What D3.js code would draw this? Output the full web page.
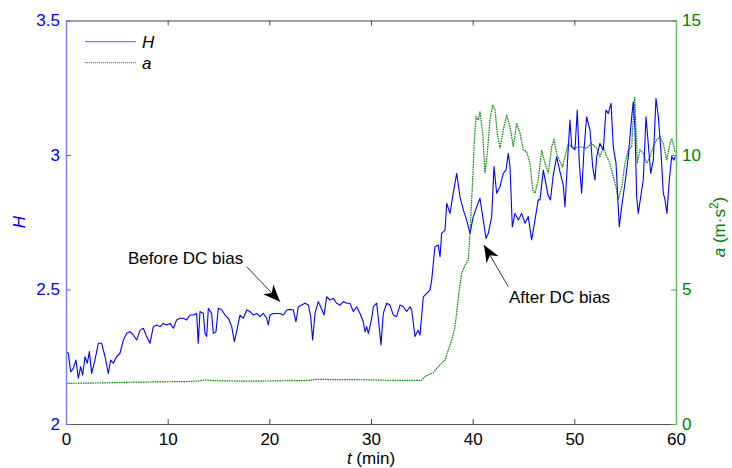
<!DOCTYPE html>
<html>
<head>
<meta charset="utf-8">
<script src="https://cdn.jsdelivr.net/npm/d3@7/dist/d3.min.js"></script>
<style>
html,body{margin:0;padding:0;background:#fff;}
svg{display:block;font-family:"Liberation Sans",Arial,sans-serif;}
</style>
</head>
<body>
<svg id="chart" width="732" height="468"></svg>
<script>
// ---- data ----
const tH = [0,0.23,0.46,0.72,0.98,1.21,1.44,1.64,1.87,2.10,2.30,2.52,2.85,3.18,3.51,3.84,4.16,4.39,4.65,4.98,5.31,5.64,5.97,6.29,6.62,6.95,7.28,7.61,7.93,8.26,8.59,8.92,9.25,9.57,9.90,10.23,10.56,10.88,11.21,11.54,11.87,12.20,12.52,12.85,13.01,13.18,13.51,13.67,13.84,14.00,14.33,14.49,14.75,14.98,15.31,15.64,15.97,16.30,16.56,16.85,17.11,17.44,17.77,18.10,18.43,18.76,19.08,19.41,19.74,19.90,20.07,20.39,20.72,21.05,21.38,21.71,22.03,22.36,22.62,22.85,23.18,23.51,23.84,24.07,24.26,24.49,24.82,25.05,25.38,25.64,25.97,26.29,26.62,26.95,27.28,27.61,27.93,28.26,28.59,28.92,29.24,29.41,29.57,29.74,30.07,30.23,30.56,30.82,30.98,31.21,31.54,31.87,32.19,32.52,32.85,33.18,33.51,33.84,34.00,34.33,34.62,34.82,34.98,35.14,35.48,35.80,35.97,36.29,36.62,36.79,36.95,37.28,37.45,37.77,38.09,38.43,38.75,39.08,39.41,39.74,40.06,40.40,40.72,41.04,41.31,41.54,41.87,42.10,42.36,42.69,43.01,43.28,43.50,43.67,43.90,44.16,44.49,44.82,45.15,45.47,45.80,46.13,46.45,46.62,46.95,47.41,47.65,47.93,48.26,48.59,48.91,49.08,49.41,49.57,49.74,50.06,50.29,50.49,50.72,50.95,51.21,51.54,51.80,52.03,52.20,52.52,52.85,53.11,53.34,53.61,53.83,54.10,54.32,54.42,54.66,54.98,55.31,55.64,55.80,55.97,56.13,56.29,56.53,56.78,57.05,57.27,57.51,57.77,58.03,58.26,58.49,58.75,58.92,59.11,59.34,59.58,59.80,59.93];
const H = [2.269,2.263,2.194,2.207,2.238,2.170,2.213,2.182,2.250,2.226,2.269,2.188,2.238,2.300,2.300,2.250,2.188,2.238,2.226,2.250,2.263,2.312,2.337,2.343,2.331,2.312,2.349,2.356,2.325,2.300,2.362,2.368,2.362,2.374,2.368,2.374,2.356,2.387,2.393,2.393,2.387,2.405,2.405,2.411,2.300,2.418,2.411,2.337,2.325,2.430,2.411,2.337,2.343,2.430,2.424,2.405,2.393,2.362,2.306,2.356,2.405,2.393,2.424,2.418,2.405,2.411,2.399,2.411,2.393,2.368,2.405,2.411,2.411,2.411,2.405,2.424,2.426,2.424,2.380,2.436,2.442,2.449,2.442,2.399,2.312,2.411,2.455,2.436,2.405,2.473,2.461,2.467,2.449,2.442,2.455,2.449,2.449,2.418,2.436,2.411,2.380,2.343,2.362,2.337,2.393,2.436,2.449,2.356,2.294,2.411,2.449,2.442,2.405,2.399,2.442,2.436,2.418,2.436,2.424,2.325,2.349,2.331,2.399,2.473,2.486,2.498,2.535,2.659,2.665,2.622,2.709,2.721,2.820,2.783,2.858,2.932,2.845,2.796,2.758,2.709,2.771,2.808,2.839,2.758,2.690,2.709,2.771,2.957,2.858,2.882,2.932,2.944,3.006,2.957,2.733,2.783,2.758,2.783,2.746,2.771,2.684,2.758,2.833,2.833,2.944,2.851,2.833,2.926,2.993,2.937,2.888,2.808,3.031,3.130,3.031,3.019,3.167,2.969,2.858,3.019,3.142,3.093,2.957,2.907,2.994,3.043,3.019,3.167,3.155,3.192,3.031,2.969,2.808,2.733,2.808,2.895,2.994,3.142,3.198,3.093,2.845,2.783,2.845,2.907,3.142,3.043,2.932,2.981,3.211,3.142,3.031,2.858,2.833,2.783,2.907,2.994,2.981,2.994];

const tA = [0,2,4,6,8,10,12,13,13.7,14.5,16,18,20,22,24,24.5,25.5,26,28,30,32,34,34.98,35.31,35.80,36.10,36.46,36.95,37.28,37.60,37.94,38.26,38.49,38.68,38.92,39.24,39.57,39.74,39.90,40.06,40.18,40.33,40.56,40.72,40.99,41.21,41.44,41.70,41.97,42.20,42.42,42.69,43.01,43.35,43.67,44.00,44.33,44.65,44.98,45.31,45.64,45.90,46.13,46.45,46.79,47.11,47.44,47.77,48.00,48.26,48.52,48.85,49.08,49.41,49.90,50.56,51.21,51.70,52.20,52.52,52.85,53.18,53.51,53.83,54.10,54.32,54.66,54.98,55.31,55.64,55.80,55.94,56.07,56.20,56.46,56.78,57.11,57.44,57.77,58.10,58.43,58.75,59.08,59.41,59.58,59.80,59.93];
const A = [1.51,1.52,1.53,1.55,1.56,1.57,1.58,1.60,1.64,1.61,1.60,1.59,1.60,1.61,1.62,1.66,1.66,1.65,1.65,1.64,1.62,1.62,1.62,1.76,1.86,1.90,2.07,2.26,2.38,2.75,3.12,3.62,4.36,4.98,5.60,5.90,6.10,7.09,8.33,9.57,10.68,11.42,11.30,11.61,10.81,9.32,10.06,11.30,11.86,11.67,10.81,10.25,10.93,11.49,11.05,10.31,11.18,10.81,10.19,10.12,9.69,8.70,8.58,9.07,10.19,9.69,9.32,10.31,10.56,10.06,9.81,9.57,9.94,10.43,10.25,10.31,10.25,10.43,10.25,9.94,10.31,9.94,9.69,9.19,8.82,8.33,8.82,9.69,10.19,10.31,11.42,12.17,10.93,9.69,10.19,10.06,9.69,9.94,10.31,10.56,10.68,10.43,9.81,10.43,10.62,10.31,10.06];

const xTicks = [0,10,20,30,40,50,60];
const hTicks = [2,2.5,3,3.5];
const aTicks = [0,5,10,15];

// ---- drawing ----
const svg = d3.select("#chart");
const L = 66, R = 676, T = 20.5, B = 424;
const x = d3.scaleLinear().domain([0,60]).range([L,R]);
const yH = d3.scaleLinear().domain([2,3.5]).range([B,T]);
const yA = d3.scaleLinear().domain([0,15]).range([B,T]);
const FS = 17;

const blue = "#0000ff", green = "#008000";

// data lines (clipped)
svg.append("defs").append("clipPath").attr("id","clip")
  .append("rect").attr("x",L).attr("y",T).attr("width",R-L).attr("height",B-T);

const g = svg.append("g").attr("clip-path","url(#clip)");
const lineA = d3.line().x((d,i)=>x(tA[i])).y(d=>yA(d));
const lineH = d3.line().x((d,i)=>x(tH[i])).y(d=>yH(d));

g.append("path").attr("d", lineA(A)).attr("fill","none")
  .attr("stroke","#0a8a0a").attr("stroke-width",1.2).attr("stroke-dasharray","1.6,0.8");
g.append("path").attr("d", lineH(H)).attr("fill","none")
  .attr("stroke",blue).attr("stroke-width",1.1).attr("stroke-linejoin","round");

// bottom axis
const ax = svg.append("g").attr("transform",`translate(0,${B})`)
  .call(d3.axisBottom(x).tickValues(xTicks).tickSizeInner(-5).tickSizeOuter(0).tickPadding(9).tickFormat(d3.format("d")));
ax.select(".domain").attr("stroke","#555");
ax.selectAll(".tick line").attr("stroke","#444");
ax.selectAll("text").attr("font-size",FS).attr("fill","#000").attr("font-family","Liberation Sans, Arial, sans-serif");

// top axis (ticks only)
const axT = svg.append("g").attr("transform",`translate(0,${T})`)
  .call(d3.axisTop(x).tickValues(xTicks).tickSizeInner(-5).tickSizeOuter(0).tickFormat(""));
axT.select(".domain").attr("stroke","#444");
axT.selectAll(".tick line").attr("stroke","#444");

// left axis
const ayl = svg.append("g").attr("transform",`translate(${L},0)`)
  .call(d3.axisLeft(yH).tickValues(hTicks).tickSizeInner(-5).tickSizeOuter(0).tickPadding(6).tickFormat(d=>d3.format("")(d)));
ayl.select(".domain").attr("stroke","#8080ff").attr("stroke-width",1.5);
ayl.selectAll(".tick line").attr("stroke","#6060ff");
ayl.selectAll("text").attr("font-size",FS).attr("fill",blue).attr("font-family","Liberation Sans, Arial, sans-serif");

// right axis
const ayr = svg.append("g").attr("transform",`translate(${R},0)`)
  .call(d3.axisRight(yA).tickValues(aTicks).tickSizeInner(-5).tickSizeOuter(0).tickPadding(6).tickFormat(d3.format("d")));
ayr.select(".domain").attr("stroke","#66bb66").attr("stroke-width",1.5);
ayr.selectAll(".tick line").attr("stroke","#44aa44");
ayr.selectAll("text").attr("font-size",FS).attr("fill",green).attr("font-family","Liberation Sans, Arial, sans-serif");

// axis labels
svg.append("text").attr("transform",`translate(25,222) rotate(-90)`)
  .attr("text-anchor","middle").attr("font-size",FS).attr("font-style","italic").attr("fill",blue).text("H");

const xl = svg.append("text").attr("x",(L+R)/2).attr("y",464).attr("text-anchor","middle").attr("font-size",FS).attr("fill","#000");
xl.append("tspan").attr("font-style","italic").text("t");
xl.append("tspan").text(" (min)");

const rl = svg.append("text").attr("transform",`translate(725,227) rotate(-90)`)
  .attr("text-anchor","middle").attr("font-size",FS).attr("fill",green);
rl.append("tspan").attr("font-style","italic").text("a");
rl.append("tspan").text(" (m·s");
rl.append("tspan").attr("font-size",12).attr("dy",-7).text("2");
rl.append("tspan").attr("dy",7).text(")");

// legend
svg.append("line").attr("x1",85).attr("x2",136).attr("y1",41.7).attr("y2",41.7).attr("stroke","#7777ff").attr("stroke-width",1.2);
svg.append("text").attr("x",142).attr("y",48).attr("font-size",FS).attr("font-style","italic").text("H");
svg.append("line").attr("x1",85).attr("x2",136).attr("y1",62.7).attr("y2",62.7).attr("stroke","#55aa55").attr("stroke-width",1.2).attr("stroke-dasharray","1.2,0.8");
svg.append("text").attr("x",142).attr("y",69).attr("font-size",FS).attr("font-style","italic").text("a");

// annotations
function arrow(x1,y1,x2,y2){
  svg.append("line").attr("x1",x1).attr("y1",y1).attr("x2",x2).attr("y2",y2).attr("stroke","#000").attr("stroke-width",0.8);
  const ang = Math.atan2(y2-y1,x2-x1), len=17, w=7;
  const bx = x2 - len*Math.cos(ang), by = y2 - len*Math.sin(ang);
  const mx = x2 - len*0.7*Math.cos(ang), my = y2 - len*0.7*Math.sin(ang);
  const px = -Math.sin(ang)*w, py = Math.cos(ang)*w;
  svg.append("path").attr("d",`M${x2},${y2}L${bx+px},${by+py}L${mx},${my}L${bx-px},${by-py}Z`).attr("fill","#000");
}
svg.append("text").attr("x",128).attr("y",264).attr("font-size",FS).attr("fill","#000").text("Before DC bias");
arrow(246.7,266.7,280,301.7);
svg.append("text").attr("x",509).attr("y",303).attr("font-size",FS).attr("fill","#000").text("After DC bias");
arrow(508.3,286.7,484,245);
</script>
</body>
</html>
